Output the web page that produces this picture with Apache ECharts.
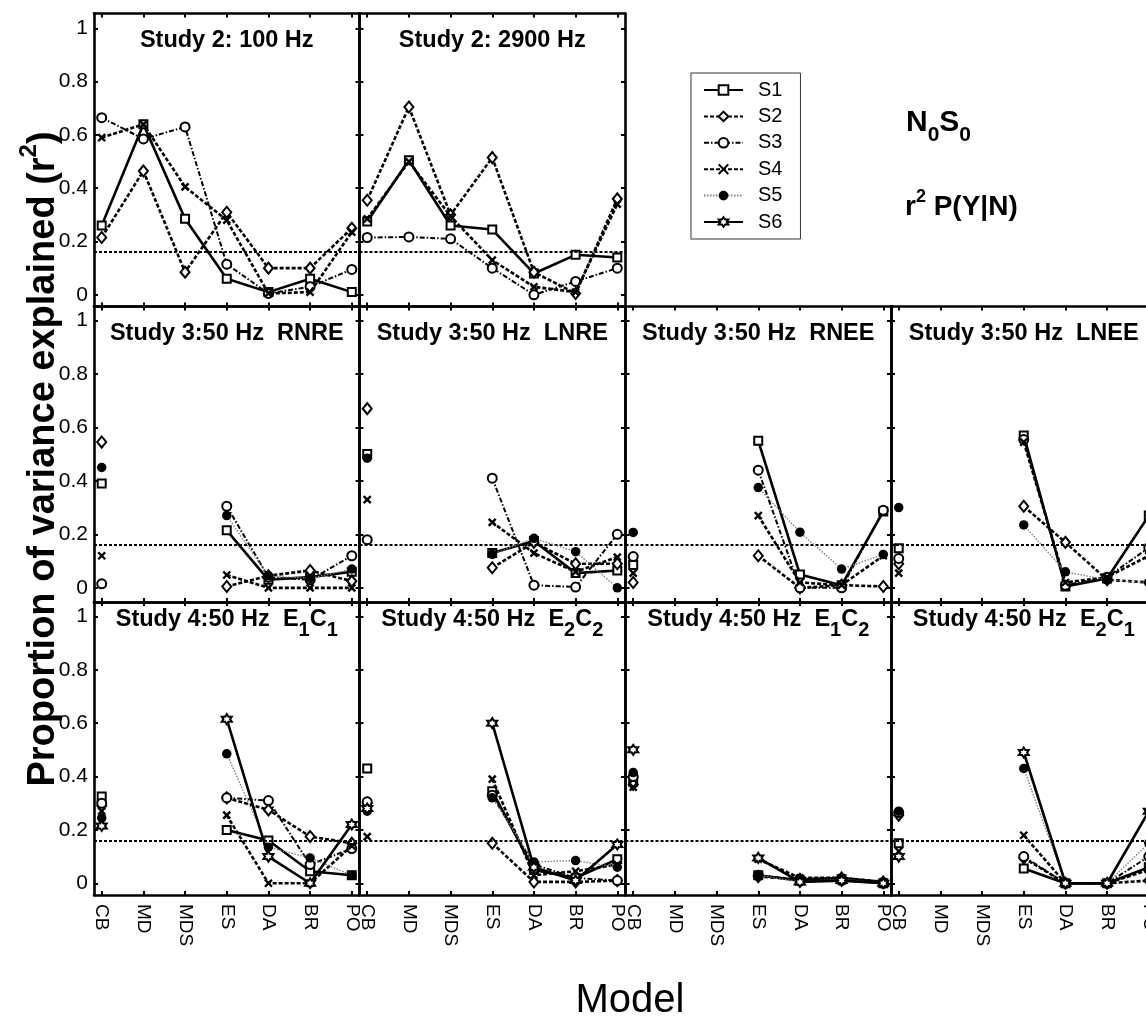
<!DOCTYPE html>
<html>
<head>
<meta charset="utf-8">
<script src="https://cdn.jsdelivr.net/npm/echarts@6/dist/echarts.min.js"></script>
<style>
  html, body { margin: 0; padding: 0; background: #fff; }
  #chart { width: 1146px; height: 1019px; }
</style>
</head>
<body>
<div id="chart"></div>
<script>
// Models on the x axis, subjects in the legend, y ticks and the criterion line
const MODELS = ['CB', 'MD', 'MDS', 'ES', 'DA', 'BR', 'PO'];
const SUBJECTS = ['S1', 'S2', 'S3', 'S4', 'S5', 'S6'];
const Y_TICKS = [0, 0.2, 0.4, 0.6, 0.8, 1];
const CRITERION = 0.16;

// r^2 per subject (rows S1..S6) and model (columns CB..PO); null = not fitted / not run
const STUDY2_100HZ = [
  [0.26, 0.64, 0.285, 0.06, 0.01, 0.06, 0.01],
  [0.215, 0.465, 0.085, 0.31, 0.10, 0.10, 0.25],
  [0.665, 0.585, 0.63, 0.115, 0.005, 0.03, 0.095],
  [0.59, 0.64, 0.405, 0.28, 0.005, 0.01, 0.235],
  null,
  null
];
const STUDY2_2900HZ = [
  [0.275, 0.505, 0.26, 0.245, 0.08, 0.15, 0.14],
  [0.355, 0.705, 0.30, 0.515, 0.085, 0.005, 0.36],
  [0.215, 0.217, 0.21, 0.10, 0.0, 0.05, 0.10],
  [0.285, 0.50, 0.295, 0.13, 0.03, 0.01, 0.34],
  null,
  null
];
const STUDY3_RNRE = [
  [0.39, null, null, 0.215, 0.03, 0.04, 0.06],
  [0.545, null, null, 0.005, 0.045, 0.065, 0.025],
  [0.015, null, null, 0.305, 0.04, 0.03, 0.12],
  [0.12, null, null, 0.048, 0.0, 0.0, 0.0],
  [0.45, null, null, 0.27, 0.045, 0.035, 0.07],
  null
];
const STUDY3_LNRE = [
  [0.50, null, null, 0.13, 0.175, 0.055, 0.065],
  [0.67, null, null, 0.075, 0.17, 0.09, 0.09],
  [0.18, null, null, 0.41, 0.01, 0.003, 0.20],
  [0.33, null, null, 0.245, 0.13, 0.06, 0.115],
  [0.485, null, null, 0.125, 0.185, 0.135, 0.0],
  null
];
const STUDY3_RNEE = [
  [0.085, null, null, 0.55, 0.05, 0.01, 0.285],
  [0.02, null, null, 0.12, 0.0, 0.01, 0.005],
  [0.117, null, null, 0.44, 0.0, 0.0, 0.29],
  [0.055, null, null, 0.27, 0.02, 0.01, 0.12],
  [0.207, null, null, 0.375, 0.208, 0.07, 0.125],
  null
];
const STUDY3_LNEE = [
  [0.148, null, null, 0.57, 0.005, 0.035, 0.27],
  [0.09, null, null, 0.305, 0.17, 0.03, 0.02],
  [0.11, null, null, 0.555, 0.01, 0.04, 0.15],
  [0.055, null, null, 0.545, 0.02, 0.04, 0.12],
  [0.30, null, null, 0.235, 0.06, 0.03, 0.02],
  null
];
const STUDY4_E1C1 = [
  [0.325, null, null, 0.20, 0.16, 0.045, 0.03],
  [0.29, null, null, 0.32, 0.275, 0.175, 0.15],
  [0.30, null, null, 0.32, 0.31, 0.07, 0.13],
  [0.27, null, null, 0.255, 0.0, 0.0, 0.14],
  [0.245, null, null, 0.485, 0.135, 0.095, 0.03],
  [0.215, null, null, 0.615, 0.10, 0.0, 0.22]
];
const STUDY4_E2C2 = [
  [0.43, null, null, 0.345, 0.05, 0.02, 0.09],
  [0.30, null, null, 0.15, 0.005, 0.005, 0.01],
  [0.305, null, null, 0.33, 0.07, 0.02, 0.01],
  [0.175, null, null, 0.39, 0.03, 0.045, 0.07],
  [0.27, null, null, 0.32, 0.08, 0.085, 0.06],
  [0.28, null, null, 0.60, 0.06, 0.01, 0.145]
];
const STUDY4_E1C2 = [
  [0.38, null, null, 0.03, 0.01, 0.015, 0.0],
  [0.37, null, null, 0.025, 0.015, 0.02, 0.005],
  [0.40, null, null, 0.03, 0.01, 0.01, 0.0],
  [0.36, null, null, 0.09, 0.02, 0.02, 0.005],
  [0.415, null, null, 0.03, 0.005, 0.015, 0.0],
  [0.50, null, null, 0.095, 0.005, 0.01, 0.0]
];
const STUDY4_E2C1 = [
  [0.15, null, null, 0.055, 0.0, 0.0, 0.06],
  [0.255, null, null, 0.095, 0.0, 0.0, 0.01],
  [0.265, null, null, 0.10, 0.0, 0.0, 0.10],
  [0.12, null, null, 0.18, 0.0, 0.0, 0.05],
  [0.27, null, null, 0.43, 0.0, 0.0, 0.15],
  [0.10, null, null, 0.49, 0.0, 0.0, 0.27]
];

// ---- layout -------------------------------------------------------------
const FONT = '"Liberation Sans", Arial, Helvetica, sans-serif';
const COL_LEFT = [94, 359.5, 625.5, 891];
const COL_W = 265.5;
const ROW_TOP = [13.5, 306.5, 602];
const ROW_H = [293, 295.5, 293];
const ROW_YMIN = [-0.044, -0.053, -0.044];
const ROW_YMAX = [1.056, 1.052, 1.054];
const X_MIN = -0.185, X_MAX = 6.185;
const TITLE_TOP = [29, 322, 608];

const PANELS = [
  { row: 0, col: 0, data: STUDY2_100HZ, title: '{m|Study 2: 100 Hz}' },
  { row: 0, col: 1, data: STUDY2_2900HZ, title: '{m|Study 2: 2900 Hz}' },
  { row: 1, col: 0, data: STUDY3_RNRE, title: '{m|Study 3:50 Hz  RNRE}' },
  { row: 1, col: 1, data: STUDY3_LNRE, title: '{m|Study 3:50 Hz  LNRE}' },
  { row: 1, col: 2, data: STUDY3_RNEE, title: '{m|Study 3:50 Hz  RNEE}' },
  { row: 1, col: 3, data: STUDY3_LNEE, title: '{m|Study 3:50 Hz  LNEE}' },
  { row: 2, col: 0, data: STUDY4_E1C1, title: '{m|Study 4:50 Hz  E}{s|1}{m|C}{s|1}' },
  { row: 2, col: 1, data: STUDY4_E2C2, title: '{m|Study 4:50 Hz  E}{s|2}{m|C}{s|2}' },
  { row: 2, col: 2, data: STUDY4_E1C2, title: '{m|Study 4:50 Hz  E}{s|1}{m|C}{s|2}' },
  { row: 2, col: 3, data: STUDY4_E2C1, title: '{m|Study 4:50 Hz  E}{s|2}{m|C}{s|1}' }
];

// marker / line style per subject
const X_PATH = 'path://M0,0L10,10M10,0L0,10';
const HEX_PATH = 'path://M10,0L12.89,5L18.66,5L15.77,10L18.66,15L12.89,15L10,20L7.11,15L1.34,15L4.23,10L1.34,5L7.11,5Z';
const SUBJECT_STYLE = [
  { symbol: 'emptyRect', size: 8,
    line: { type: 'solid', width: 2.6, color: '#000' },
    item: { color: '#000', borderColor: '#000', borderWidth: 2.5 } },
  { symbol: 'emptyDiamond', size: [9, 11],
    line: { type: [4, 2], width: 2.6, color: '#000' },
    item: { color: '#000', borderColor: '#000', borderWidth: 2.5 } },
  { symbol: 'emptyCircle', size: 9,
    line: { type: [5, 2, 1.5, 2], width: 2, color: '#000' },
    item: { color: '#000', borderColor: '#000', borderWidth: 2.5 } },
  { symbol: X_PATH, size: 7,
    line: { type: [4, 2], width: 2.6, color: '#000' },
    item: { color: '#000', borderColor: '#000', borderWidth: 2.4 } },
  { symbol: 'circle', size: 9.5,
    line: { type: [1.5, 1.5], width: 1.4, color: '#808080' },
    item: { color: '#000' } },
  { symbol: HEX_PATH, size: 10,
    line: { type: 'solid', width: 2.6, color: '#000' },
    item: { color: '#fff', borderColor: '#000', borderWidth: 2 } }
];

const AXIS_LINE = { show: true, onZero: false, lineStyle: { color: '#000', width: 2.6 } };
const TICK_STYLE = { color: '#000', width: 2 };
const X_TICK_VALUES = MODELS.map((m, i) => i);

const grids = [], xAxes = [], yAxes = [], series = [], graphics = [];

PANELS.forEach((p, gi) => {
  const left = COL_LEFT[p.col], top = ROW_TOP[p.row];
  grids.push({
    left: left, top: top, width: COL_W, height: ROW_H[p.row],
    containLabel: false, outerBoundsMode: 'none'
  });

  const isBottomRow = p.row === 2;
  const isFirstCol = p.col === 0;

  // bottom + top x axes (box with inward ticks)
  xAxes.push({
    type: 'value', gridIndex: gi, position: 'bottom', min: X_MIN, max: X_MAX,
    axisLine: AXIS_LINE, splitLine: { show: false },
    axisTick: { show: true, inside: true, length: 4, customValues: X_TICK_VALUES, lineStyle: TICK_STYLE },
    axisLabel: {
      show: isBottomRow, customValues: X_TICK_VALUES, rotate: -90, margin: 9,
      formatter: v => MODELS[Math.round(v)], color: '#000', fontSize: 19, fontFamily: FONT
    }
  });
  xAxes.push({
    type: 'value', gridIndex: gi, position: 'top', min: X_MIN, max: X_MAX,
    axisLine: AXIS_LINE, splitLine: { show: false },
    axisTick: { show: true, inside: true, length: 4, customValues: X_TICK_VALUES, lineStyle: TICK_STYLE },
    axisLabel: { show: false }
  });
  // left + right y axes
  yAxes.push({
    type: 'value', gridIndex: gi, position: 'left', min: ROW_YMIN[p.row], max: ROW_YMAX[p.row],
    axisLine: AXIS_LINE, splitLine: { show: false },
    axisTick: { show: true, inside: true, length: 4, customValues: Y_TICKS, lineStyle: TICK_STYLE },
    axisLabel: {
      show: isFirstCol, customValues: Y_TICKS, margin: 6,
      formatter: v => String(v), color: '#000', fontSize: 21, fontFamily: FONT
    }
  });
  yAxes.push({
    type: 'value', gridIndex: gi, position: 'right', min: ROW_YMIN[p.row], max: ROW_YMAX[p.row],
    axisLine: AXIS_LINE, splitLine: { show: false },
    axisTick: { show: true, inside: true, length: 4, customValues: Y_TICKS, lineStyle: TICK_STYLE },
    axisLabel: { show: false }
  });

  p.data.forEach((vals, si) => {
    if (!vals) return;
    const st = SUBJECT_STYLE[si];
    const s = {
      type: 'line', name: SUBJECTS[si],
      xAxisIndex: 2 * gi, yAxisIndex: 2 * gi,
      data: vals.map((v, i) => [i, v === null ? '-' : v]),
      symbol: st.symbol, symbolSize: st.size, showSymbol: true,
      lineStyle: st.line, itemStyle: st.item,
      connectNulls: false, clip: false, z: 3 + si,
      emphasis: { disabled: true }, animation: false
    };
    if (si === 0) {
      s.markLine = {
        silent: true, symbol: ['none', 'none'], animation: false,
        label: { show: false },
        lineStyle: { type: [3, 2], color: '#000', width: 2.2 },
        data: [{ yAxis: CRITERION }]
      };
    }
    series.push(s);
  });

  // panel heading
  graphics.push({
    type: 'text', x: left + COL_W / 2, y: TITLE_TOP[p.row], z: 50,
    style: {
      text: p.title, textAlign: 'center', textVerticalAlign: 'top',
      rich: {
        m: { fontFamily: FONT, fontWeight: 'bold', fontSize: 23.5, fill: '#000', verticalAlign: 'top' },
        s: { fontFamily: FONT, fontWeight: 'bold', fontSize: 20, fill: '#000', verticalAlign: 'top', padding: [12, 0, 0, 0] }
      }
    }
  });
});

// axis titles and annotations
graphics.push({
  type: 'text', x: 40, y: 459, rotation: Math.PI / 2, z: 50,
  style: {
    text: '{m|Proportion of variance explained (r}{p|2}{m|)}',
    textAlign: 'center', textVerticalAlign: 'middle',
    rich: {
      m: { fontFamily: FONT, fontWeight: 'bold', fontSize: 38, fill: '#000', verticalAlign: 'top', padding: [8, 0, 0, 0] },
      p: { fontFamily: FONT, fontWeight: 'bold', fontSize: 24, fill: '#000', verticalAlign: 'top' }
    }
  }
});
graphics.push({
  type: 'text', x: 630, y: 1001, z: 50,
  style: { text: 'Model', textAlign: 'center', textVerticalAlign: 'middle',
    fontFamily: FONT, fontSize: 40, fill: '#000' }
});
graphics.push({
  type: 'text', x: 906, y: 108, z: 50,
  style: {
    text: '{m|N}{s|0}{m|S}{s|0}', textAlign: 'left', textVerticalAlign: 'top',
    rich: {
      m: { fontFamily: FONT, fontWeight: 'bold', fontSize: 30, fill: '#000', verticalAlign: 'top' },
      s: { fontFamily: FONT, fontWeight: 'bold', fontSize: 21, fill: '#000', verticalAlign: 'top', padding: [17, 0, 0, 0] }
    }
  }
});
graphics.push({
  type: 'text', x: 905, y: 188, z: 50,
  style: {
    text: '{m|r}{p|2}{m| P(Y|N)}', textAlign: 'left', textVerticalAlign: 'top',
    rich: {
      m: { fontFamily: FONT, fontWeight: 'bold', fontSize: 28, fill: '#000', verticalAlign: 'top', padding: [5, 0, 0, 0] },
      p: { fontFamily: FONT, fontWeight: 'bold', fontSize: 18, fill: '#000', verticalAlign: 'top' }
    }
  }
});

const chart = echarts.init(document.getElementById('chart'), null, { renderer: 'canvas' });
chart.setOption({
  animation: false,
  backgroundColor: '#fff',
  grid: grids,
  xAxis: xAxes,
  yAxis: yAxes,
  legend: {
    data: SUBJECTS, orient: 'vertical', left: 691, top: 73,
    padding: [7, 18, 7, 12], itemGap: 6.4, itemWidth: 39, itemHeight: 12,
    borderColor: '#333', borderWidth: 1, selectedMode: false,
    textStyle: { fontFamily: FONT, fontSize: 20, color: '#000', padding: [0, 0, 0, 10] }
  },
  series: series,
  graphic: graphics
});
</script>
</body>
</html>
